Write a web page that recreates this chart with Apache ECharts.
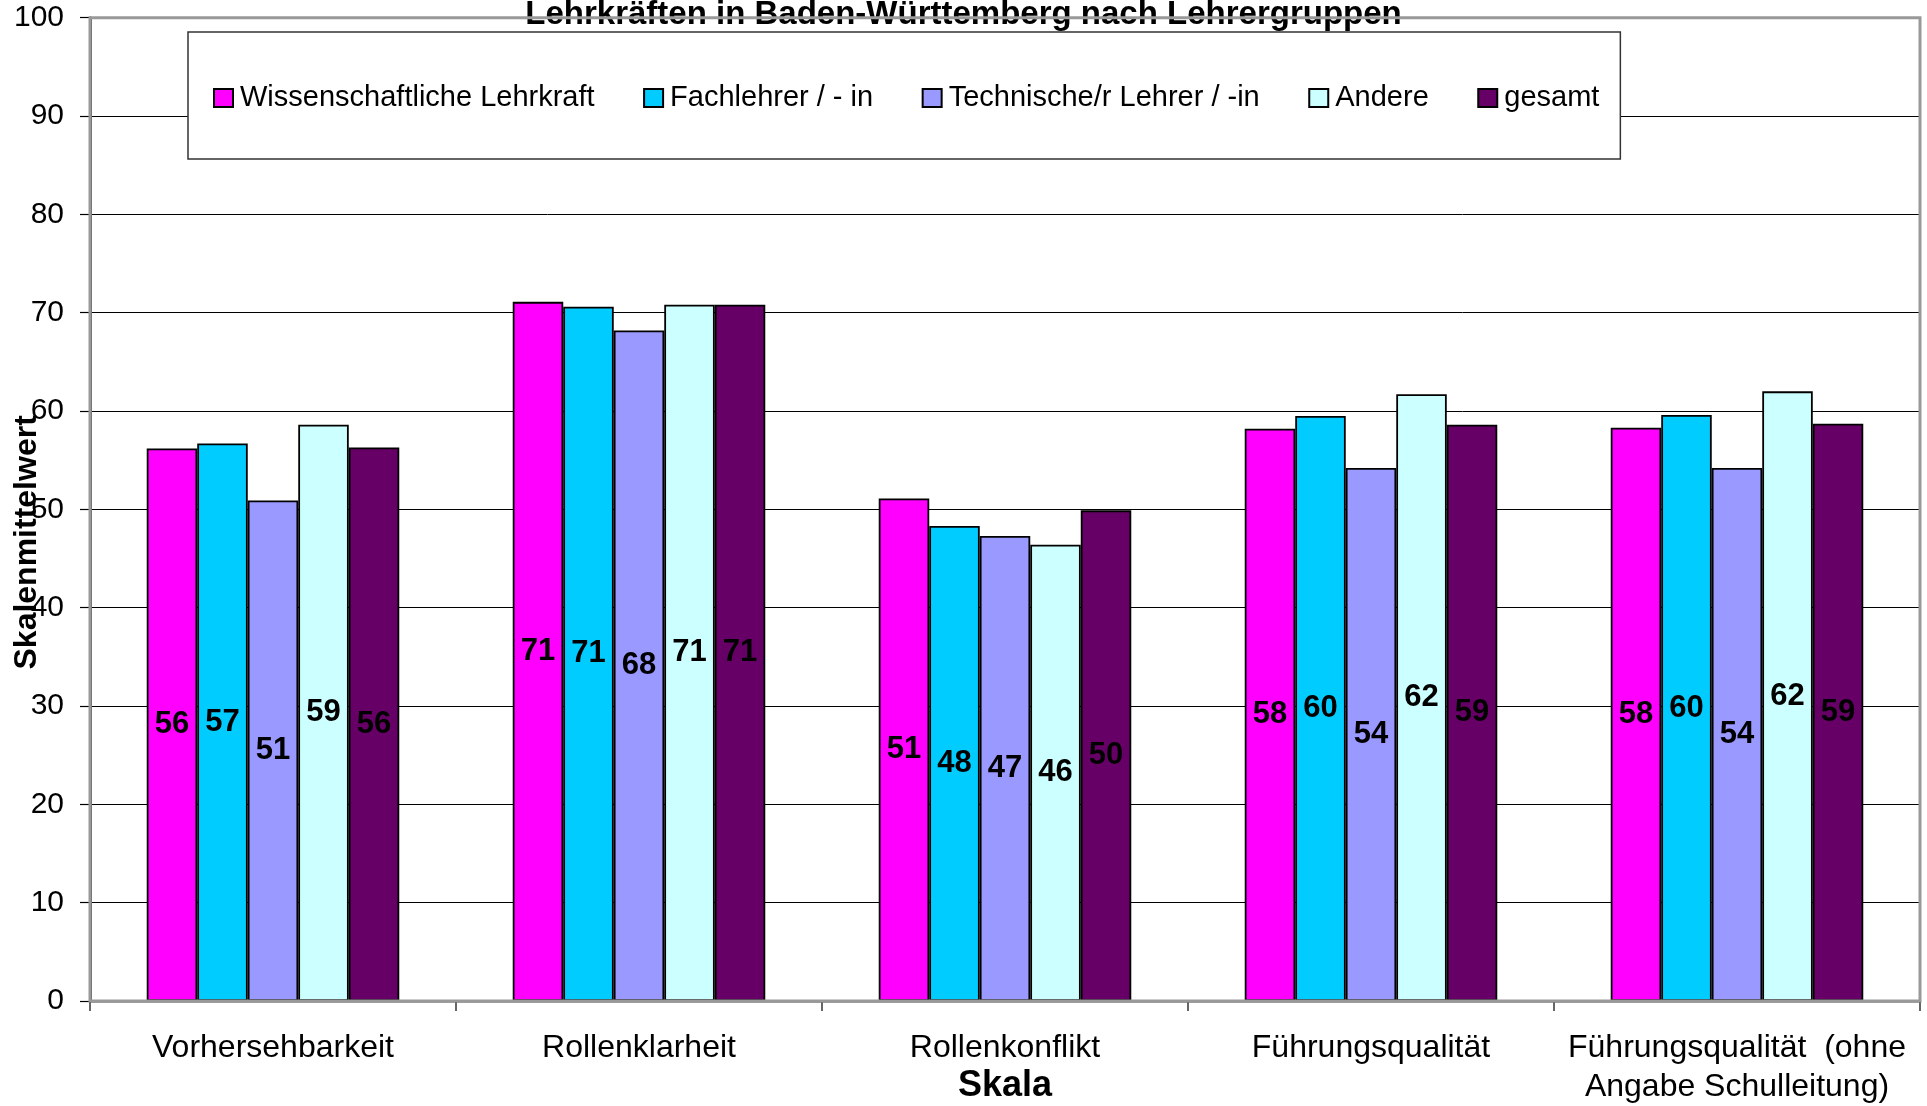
<!DOCTYPE html>
<html>
<head>
<meta charset="utf-8">
<script src="https://cdn.jsdelivr.net/npm/echarts@6/dist/echarts.min.js"></script>
<style>
html,body{margin:0;padding:0;background:#fff;}
#chart{width:1927px;height:1106px;}
</style>
</head>
<body>
<div id="chart"></div>
<script>
const titleText = 'Lehrkräften in Baden-Württemberg nach Lehrergruppen';
const categories = ['Vorhersehbarkeit', 'Rollenklarheit', 'Rollenkonflikt', 'Führungsqualität', 'Führungsqualität  (ohne\nAngabe Schulleitung)'];
const seriesNames = ['Wissenschaftliche Lehrkraft', 'Fachlehrer / - in', 'Technische/r Lehrer / -in', 'Andere', 'gesamt'];
const seriesColors = ['#FF00FF', '#00CCFF', '#9999FF', '#CCFFFF', '#660066'];
const wissenschaftlich = [56.2, 71.1, 51.1, 58.2, 58.3];
const fachlehrer = [56.7, 70.6, 48.3, 59.5, 59.6];
const technisch = [50.9, 68.2, 47.3, 54.2, 54.2];
const andere = [58.6, 70.8, 46.4, 61.7, 62.0];
const gesamt = [56.3, 70.8, 49.9, 58.6, 58.7];
const yTicks = {min: 0, max: 100, interval: 10};
const xName = 'Skala';
const yName = 'Skalenmittelwert';

const seriesValues = [wissenschaftlich, fachlehrer, technisch, andere, gesamt];
const FONT = "'Liberation Sans', Arial, sans-serif";

const chart = echarts.init(document.getElementById('chart'), null, {renderer: 'canvas'});
chart.setOption({
  backgroundColor: '#fff',
  animation: false,
  textStyle: {fontFamily: FONT},
  title: {
    text: titleText,
    left: 'center',
    top: -7,
    z: 1,
    textStyle: {fontFamily: FONT, fontSize: 33, fontWeight: 'bold', color: '#000'}
  },
  legend: {
    left: 188,
    top: 32,
    orient: 'horizontal',
    padding: [51.5, 21, 46.5, 25],
    itemGap: 48.5,
    itemWidth: 19,
    itemHeight: 18,
    icon: 'rect',
    backgroundColor: '#fff',
    borderColor: '#333',
    borderWidth: 1.5,
    borderRadius: 0,
    z: 8,
    textStyle: {fontFamily: FONT, fontSize: 29, color: '#000', padding: [0, 0, 0, 2]},
    data: seriesNames
  },
  grid: {
    left: 90, right: 7, top: 17.7, bottom: 105,
    outerBoundsMode: 'none',
    containLabel: false,
    show: true,
    z: 7,
    backgroundColor: 'transparent',
    borderColor: '#999',
    borderWidth: 3
  },
  xAxis: {
    type: 'category',
    data: categories,
    name: xName,
    nameLocation: 'middle',
    nameGap: 67,
    nameMoveOverlap: false,
    nameTextStyle: {fontFamily: FONT, fontSize: 36, fontWeight: 'bold', color: '#000'},
    axisLine: {show: true, lineStyle: {color: '#808080', width: 2.5}},
    axisTick: {show: true, length: 10, lineStyle: {color: '#333', width: 1.5}},
    axisLabel: {fontFamily: FONT, fontSize: 32, color: '#000', margin: 28, lineHeight: 39, interval: 0},
    splitLine: {show: false}
  },
  yAxis: {
    type: 'value',
    min: yTicks.min,
    max: yTicks.max,
    interval: yTicks.interval,
    name: yName,
    nameLocation: 'middle',
    nameGap: 47,
    nameMoveOverlap: false,
    nameTextStyle: {fontFamily: FONT, fontSize: 32, fontWeight: 'bold', color: '#000', padding: [0, 66, 0, 0]},
    axisLine: {show: true, lineStyle: {color: '#555', width: 3}},
    axisTick: {show: true, length: 10, lineStyle: {color: '#000', width: 1.2}},
    axisLabel: {fontFamily: FONT, fontSize: 30, color: '#000', margin: 26},
    splitLine: {show: true, lineStyle: {color: '#000', width: 1}}
  },
  series: seriesNames.map((name, i) => ({
    name: name,
    type: 'bar',
    data: seriesValues[i],
    barGap: 0,
    barCategoryGap: '31%',
    itemStyle: {color: seriesColors[i], borderColor: '#000', borderWidth: 1.8},
    label: {
      show: true,
      position: 'inside',
      fontFamily: FONT,
      fontSize: 31,
      fontWeight: 'bold',
      color: '#000',
      formatter: p => Math.round(p.value)
    }
  }))
});
</script>
</body>
</html>
